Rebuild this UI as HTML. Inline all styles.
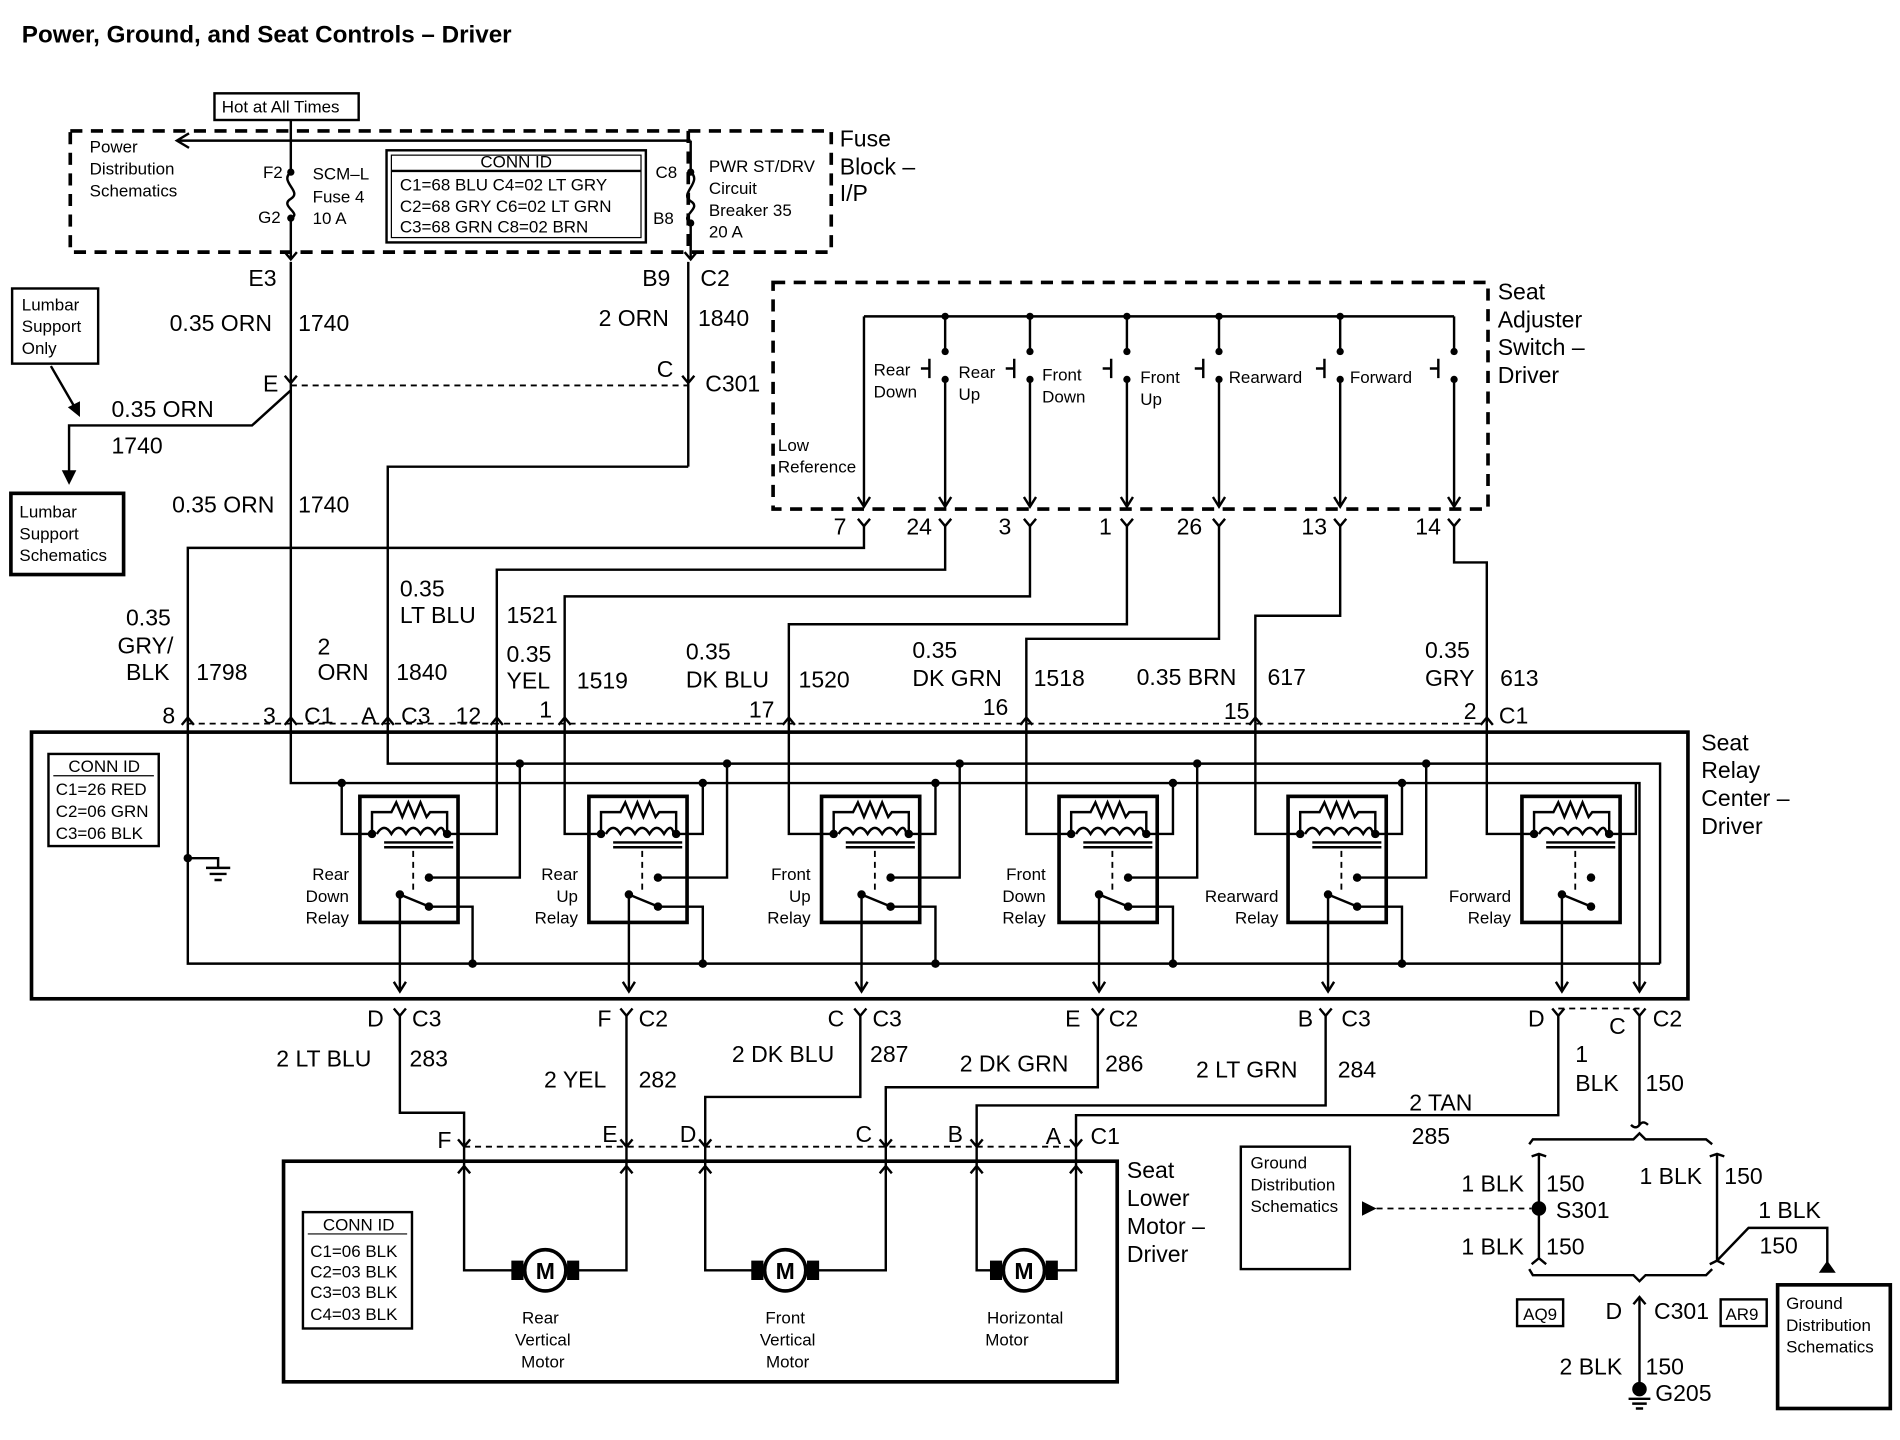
<!DOCTYPE html>
<html><head><meta charset="utf-8"><style>
html,body{margin:0;padding:0;background:#fff}
svg{display:block}
text{font-family:"Liberation Sans",Arial,sans-serif;fill:#000}
.b{font-size:19px}
.s{font-size:14px}
.l{fill:none;stroke:#000;stroke-width:2}
.d{fill:none;stroke:#000;stroke-width:3;stroke-dasharray:10,7}
.dt{fill:none;stroke:#000;stroke-width:1.5;stroke-dasharray:5,4}
</style></head><body>
<svg width="1900" height="1440" viewBox="0 0 1568 1188" preserveAspectRatio="none" xmlns="http://www.w3.org/2000/svg">
<defs>
<path id="ch" d="M-5,-6 L0,0 L5,-6" fill="none" stroke="#000" stroke-width="2"/>
<path id="cu" d="M-5,6 L0,0 L5,6" fill="none" stroke="#000" stroke-width="2"/>
<path id="ah" d="M-5,-8 L0,0 L5,-8" fill="none" stroke="#000" stroke-width="2"/>
<g id="relay">
<rect x="0" y="657" width="81" height="104" fill="none" stroke="#000" stroke-width="3"/>
<path d="M10,688 L10,670 L26,670 L30,662 L35,674 L40,662 L45,674 L50,662 L55,674 L58,670 L72,670 L72,688" class="l"/>
<path d="M14,688 q6,-10 12,0 q6,-10 12,0 q6,-10 12,0 q6,-10 12,0 q6,-10 8,0" class="l"/>
<line x1="20" y1="695" x2="77" y2="695" class="l"/><line x1="20" y1="699" x2="77" y2="699" class="l"/>
<line x1="44" y1="702" x2="44" y2="734" class="dt"/>
<circle cx="10" cy="688" r="3.5"/><circle cx="72" cy="688" r="3.5"/>
<circle cx="57" cy="724" r="3.5"/><circle cx="33" cy="738" r="3.5"/><circle cx="57" cy="748" r="3.5"/>
<path d="M33,738 L55,747" class="l"/>
<line x1="33" y1="738" x2="33" y2="818" class="l"/>
<use href="#ah" x="33" y="818"/>
</g>
<g id="motor">
<rect x="-28" y="-8" width="10" height="16" fill="#000"/><rect x="18" y="-8" width="10" height="16" fill="#000"/>
<circle cx="0" cy="0" r="17" fill="#fff" stroke="#000" stroke-width="3"/>
<text x="0" y="7" text-anchor="middle" class="b" font-weight="bold">M</text>
</g>
</defs>

<text x="18" y="35" font-size="20" font-weight="bold">Power, Ground, and Seat Controls – Driver</text>

<rect x="177" y="77" width="119" height="22" class="l"/>
<text x="183" y="93" class="s">Hot at All Times</text>
<line x1="240" y1="99" x2="240" y2="116" class="l"/>
<line x1="148" y1="116" x2="570" y2="116" class="l"/>
<path d="M156,110 L146,116 L156,122" class="l"/>
<rect x="58" y="108" width="628" height="100" class="d"/>
<line x1="568" y1="108" x2="568" y2="208" class="d"/>
<text x="74" y="126" class="s">Power</text><text x="74" y="144" class="s">Distribution</text><text x="74" y="162" class="s">Schematics</text>
<text x="217" y="147" class="s">F2</text><text x="213" y="184" class="s">G2</text>
<path d="M240,116 L240,142 C230,150 250,158 240,164 C230,170 250,176 240,180 L240,214" class="l"/>
<circle cx="240" cy="142" r="3"/><circle cx="240" cy="180" r="3"/>
<text x="258" y="148" class="s">SCM–L</text><text x="258" y="167" class="s">Fuse 4</text><text x="258" y="185" class="s">10 A</text>
<rect x="319" y="124" width="214" height="76" class="l"/><rect x="323" y="128" width="206" height="68" fill="none" stroke="#000" stroke-width="1"/>
<line x1="323" y1="141" x2="529" y2="141" class="l"/>
<text x="426" y="138" class="s" text-anchor="middle">CONN ID</text>
<text x="330" y="157" class="s">C1=68 BLU  C4=02 LT GRY</text>
<text x="330" y="175" class="s">C2=68 GRY  C6=02 LT GRN</text>
<text x="330" y="192" class="s">C3=68 GRN  C8=02 BRN</text>
<text x="541" y="147" class="s">C8</text><text x="539" y="185" class="s">B8</text>
<path d="M570,116 L570,142 C580,150 560,160 570,166 C580,172 560,178 570,184 L570,214" class="l"/>
<circle cx="570" cy="142" r="3"/><circle cx="570" cy="184" r="3"/>
<text x="585" y="142" class="s">PWR ST/DRV</text><text x="585" y="160" class="s">Circuit</text><text x="585" y="178" class="s">Breaker 35</text><text x="585" y="196" class="s">20 A</text>
<text x="693" y="121" class="b">Fuse</text><text x="693" y="144" class="b">Block –</text><text x="693" y="166" class="b">I/P</text>
<use href="#ch" x="240" y="214"/><use href="#ch" x="570" y="214"/>
<text x="205" y="236" class="b">E3</text><text x="530" y="236" class="b">B9</text><text x="578" y="236" class="b">C2</text>
<line x1="240" y1="216" x2="240" y2="597" class="l"/>
<line x1="568" y1="216" x2="568" y2="385" class="l"/>
<text x="140" y="273" class="b">0.35 ORN</text><text x="246" y="273" class="b">1740</text>
<text x="494" y="269" class="b">2 ORN</text><text x="576" y="269" class="b">1840</text>
<use href="#ch" x="240" y="316"/><use href="#ch" x="568" y="316"/>
<line x1="240" y1="318" x2="568" y2="318" class="dt"/>
<text x="217" y="323" class="b">E</text><text x="542" y="311" class="b">C</text><text x="582" y="323" class="b">C301</text>
<path d="M568,385 L320,385 L320,597" class="l"/>
<rect x="10" y="238" width="71" height="62" class="l"/>
<text x="18" y="256" class="s">Lumbar</text><text x="18" y="274" class="s">Support</text><text x="18" y="292" class="s">Only</text>
<line x1="42" y1="302" x2="64" y2="340" class="l"/><path d="M56,336 L66,344 L66,331 Z"/>
<path d="M240,322 L208,351 L57,351 L57,396" class="l"/><path d="M51,388 L57,400 L63,388 Z"/>
<text x="92" y="344" class="b">0.35 ORN</text><text x="92" y="374" class="b">1740</text>
<rect x="9" y="407" width="93" height="67" stroke="#000" stroke-width="3" fill="none"/>
<text x="16" y="427" class="s">Lumbar</text><text x="16" y="445" class="s">Support</text><text x="16" y="463" class="s">Schematics</text>
<text x="142" y="423" class="b">0.35 ORN</text><text x="246" y="423" class="b">1740</text>

<rect x="638" y="233" width="590" height="187" class="d"/>
<text x="1236" y="247" class="b">Seat</text><text x="1236" y="270" class="b">Adjuster</text><text x="1236" y="293" class="b">Switch –</text><text x="1236" y="316" class="b">Driver</text>
<line x1="713" y1="261" x2="1200" y2="261" class="l"/>
<line x1="713" y1="261" x2="713" y2="418" class="l"/><use href="#ah" x="713" y="418"/>
<text x="642" y="372" class="s">Low</text><text x="642" y="390" class="s">Reference</text>
<g class="l">
<path d="M780,261 L780,290 M780,313 L780,418 M767,296 L767,312 M760,304 L767,304"/>
<path d="M850,261 L850,290 M850,313 L850,418 M837,296 L837,312 M830,304 L837,304"/>
<path d="M930,261 L930,290 M930,313 L930,418 M917,296 L917,312 M910,304 L917,304"/>
<path d="M1006,261 L1006,290 M1006,313 L1006,418 M993,296 L993,312 M986,304 L993,304"/>
<path d="M1106,261 L1106,290 M1106,313 L1106,418 M1093,296 L1093,312 M1086,304 L1093,304"/>
<path d="M1200,261 L1200,290 M1200,313 L1200,418 M1187,296 L1187,312 M1180,304 L1187,304"/>
</g>
<g>
<circle cx="780" cy="261" r="3"/><circle cx="780" cy="290" r="3"/><circle cx="780" cy="313" r="3"/>
<circle cx="850" cy="261" r="3"/><circle cx="850" cy="290" r="3"/><circle cx="850" cy="313" r="3"/>
<circle cx="930" cy="261" r="3"/><circle cx="930" cy="290" r="3"/><circle cx="930" cy="313" r="3"/>
<circle cx="1006" cy="261" r="3"/><circle cx="1006" cy="290" r="3"/><circle cx="1006" cy="313" r="3"/>
<circle cx="1106" cy="261" r="3"/><circle cx="1106" cy="290" r="3"/><circle cx="1106" cy="313" r="3"/>
<circle cx="1200" cy="290" r="3"/><circle cx="1200" cy="313" r="3"/>
</g>
<use href="#ah" x="780" y="418"/><use href="#ah" x="850" y="418"/><use href="#ah" x="930" y="418"/><use href="#ah" x="1006" y="418"/><use href="#ah" x="1106" y="418"/><use href="#ah" x="1200" y="418"/>
<text x="721" y="310" class="s">Rear</text><text x="721" y="328" class="s">Down</text>
<text x="791" y="312" class="s">Rear</text><text x="791" y="330" class="s">Up</text>
<text x="860" y="314" class="s">Front</text><text x="860" y="332" class="s">Down</text>
<text x="941" y="316" class="s">Front</text><text x="941" y="334" class="s">Up</text>
<text x="1014" y="316" class="s">Rearward</text><text x="1114" y="316" class="s">Forward</text>
<use href="#ch" x="713" y="434"/><use href="#ch" x="780" y="434"/><use href="#ch" x="850" y="434"/><use href="#ch" x="930" y="434"/><use href="#ch" x="1006" y="434"/><use href="#ch" x="1106" y="434"/><use href="#ch" x="1200" y="434"/>
<text x="688" y="441" class="b">7</text><text x="748" y="441" class="b">24</text><text x="824" y="441" class="b">3</text><text x="907" y="441" class="b">1</text><text x="971" y="441" class="b">26</text><text x="1074" y="441" class="b">13</text><text x="1168" y="441" class="b">14</text>
<g class="l">
<path d="M713,434 L713,452 L155,452 L155,597"/>
<path d="M780,434 L780,470 L410,470 L410,597"/>
<path d="M850,434 L850,492 L466,492 L466,597"/>
<path d="M930,434 L930,515 L651,515 L651,597"/>
<path d="M1006,434 L1006,527 L847,527 L847,597"/>
<path d="M1106,434 L1106,508 L1036,508 L1036,597"/>
<path d="M1200,434 L1200,464 L1227,464 L1227,597"/>
</g>
<text x="104" y="516" class="b">0.35</text><text x="97" y="539" class="b">GRY/</text><text x="104" y="561" class="b">BLK</text><text x="162" y="561" class="b">1798</text>
<text x="262" y="540" class="b">2</text><text x="262" y="561" class="b">ORN</text><text x="327" y="561" class="b">1840</text>
<text x="330" y="492" class="b">0.35</text><text x="330" y="514" class="b">LT BLU</text><text x="418" y="514" class="b">1521</text>
<text x="418" y="546" class="b">0.35</text><text x="418" y="568" class="b">YEL</text><text x="476" y="568" class="b">1519</text>
<text x="566" y="544" class="b">0.35</text><text x="566" y="567" class="b">DK BLU</text><text x="659" y="567" class="b">1520</text>
<text x="753" y="543" class="b">0.35</text><text x="753" y="566" class="b">DK GRN</text><text x="853" y="566" class="b">1518</text>
<text x="938" y="565" class="b">0.35 BRN</text><text x="1046" y="565" class="b">617</text>
<text x="1176" y="543" class="b">0.35</text><text x="1176" y="566" class="b">GRY</text><text x="1238" y="566" class="b">613</text>
<line x1="155" y1="597" x2="1227" y2="597" class="dt"/>
<use href="#cu" x="155" y="592"/><use href="#cu" x="240" y="592"/><use href="#cu" x="320" y="592"/><use href="#cu" x="410" y="592"/><use href="#cu" x="466" y="592"/><use href="#cu" x="651" y="592"/><use href="#cu" x="847" y="592"/><use href="#cu" x="1036" y="592"/><use href="#cu" x="1227" y="592"/>
<text x="134" y="597" class="b">8</text><text x="217" y="597" class="b">3</text><text x="251" y="597" class="b">C1</text><text x="298" y="597" class="b">A</text><text x="331" y="597" class="b">C3</text><text x="376" y="597" class="b">12</text><text x="445" y="592" class="b">1</text><text x="618" y="592" class="b">17</text><text x="811" y="590" class="b">16</text><text x="1010" y="593" class="b">15</text><text x="1208" y="593" class="b">2</text><text x="1237" y="597" class="b">C1</text>

<rect x="26" y="604" width="1367" height="220" fill="none" stroke="#000" stroke-width="3"/>
<text x="1404" y="619" class="b">Seat</text><text x="1404" y="642" class="b">Relay</text><text x="1404" y="665" class="b">Center –</text><text x="1404" y="688" class="b">Driver</text>
<rect x="40" y="622" width="91" height="76" class="l"/><line x1="44" y1="640" x2="127" y2="640" stroke="#000"/>
<text x="86" y="637" class="s" text-anchor="middle">CONN ID</text>
<text x="46" y="656" class="s">C1=26 RED</text><text x="46" y="674" class="s">C2=06 GRN</text><text x="46" y="692" class="s">C3=06 BLK</text>
<g class="l">
<path d="M155,597 L155,795 L1370,795"/>
<path d="M155,708 L180,708 L180,716"/>
<path d="M170,716 L190,716 M173,721 L187,721 M177,726 L183,726"/>
<path d="M320,597 L320,630 L1370,630 L1370,795"/>
<path d="M240,597 L240,646 L1353,646 L1353,818"/>
<path d="M307,688 L282,688 L282,646 M369,688 L410,688 L410,597 M354,724 L429,724 L429,630 M354,748 L390,748 L390,795"/>
<path d="M496,688 L466,688 L466,597 M558,688 L580,688 L580,646 M543,724 L600,724 L600,630 M543,748 L580,748 L580,795"/>
<path d="M688,688 L651,688 L651,597 M750,688 L772,688 L772,646 M735,724 L792,724 L792,630 M735,748 L772,748 L772,795"/>
<path d="M884,688 L847,688 L847,597 M946,688 L968,688 L968,646 M931,724 L988,724 L988,630 M931,748 L968,748 L968,795"/>
<path d="M1073,688 L1036,688 L1036,597 M1135,688 L1157,688 L1157,646 M1120,724 L1177,724 L1177,630 M1120,748 L1157,748 L1157,795"/>
<path d="M1266,688 L1227,688 L1227,597 M1328,688 L1350,688 L1350,646"/>
</g>
<circle cx="155" cy="708" r="3.5"/><circle cx="282" cy="646" r="3.5"/><circle cx="429" cy="630" r="3.5"/><circle cx="390" cy="795" r="3.5"/>
<circle cx="580" cy="646" r="3.5"/><circle cx="600" cy="630" r="3.5"/><circle cx="580" cy="795" r="3.5"/>
<circle cx="772" cy="646" r="3.5"/><circle cx="792" cy="630" r="3.5"/><circle cx="772" cy="795" r="3.5"/>
<circle cx="968" cy="646" r="3.5"/><circle cx="988" cy="630" r="3.5"/><circle cx="968" cy="795" r="3.5"/>
<circle cx="1157" cy="646" r="3.5"/><circle cx="1177" cy="630" r="3.5"/><circle cx="1157" cy="795" r="3.5"/>
<use href="#relay" x="297"/><use href="#relay" x="486"/><use href="#relay" x="678"/><use href="#relay" x="874"/><use href="#relay" x="1063"/><use href="#relay" x="1256"/>
<g class="s" text-anchor="end">
<text x="288" y="726">Rear</text><text x="288" y="744">Down</text><text x="288" y="762">Relay</text>
<text x="477" y="726">Rear</text><text x="477" y="744">Up</text><text x="477" y="762">Relay</text>
<text x="669" y="726">Front</text><text x="669" y="744">Up</text><text x="669" y="762">Relay</text>
<text x="863" y="726">Front</text><text x="863" y="744">Down</text><text x="863" y="762">Relay</text>
<text x="1055" y="744">Rearward</text><text x="1055" y="762">Relay</text>
<text x="1247" y="744">Forward</text><text x="1247" y="762">Relay</text>
</g>
<use href="#ah" x="1353" y="818"/>

<use href="#ch" x="330" y="838"/><use href="#ch" x="517" y="838"/><use href="#ch" x="710" y="838"/><use href="#ch" x="906" y="838"/><use href="#ch" x="1094" y="838"/><use href="#ch" x="1286" y="838"/><use href="#ch" x="1353" y="838"/>
<text x="303" y="847" class="b">D</text><text x="340" y="847" class="b">C3</text>
<text x="493" y="847" class="b">F</text><text x="527" y="847" class="b">C2</text>
<text x="683" y="847" class="b">C</text><text x="720" y="847" class="b">C3</text>
<text x="879" y="847" class="b">E</text><text x="915" y="847" class="b">C2</text>
<text x="1071" y="847" class="b">B</text><text x="1107" y="847" class="b">C3</text>
<text x="1261" y="847" class="b">D</text><text x="1328" y="853" class="b">C</text><text x="1364" y="847" class="b">C2</text>
<line x1="1286" y1="832" x2="1353" y2="832" class="dt"/>
<g class="l">
<path d="M330,838 L330,918 L383,918 L383,962"/>
<path d="M517,838 L517,962"/>
<path d="M710,838 L710,905 L582,905 L582,962"/>
<path d="M906,838 L906,897 L731,897 L731,962"/>
<path d="M1094,838 L1094,912 L806,912 L806,962"/>
<path d="M1286,838 L1286,920 L888,920 L888,962"/>
</g>
<text x="228" y="880" class="b">2 LT BLU</text><text x="338" y="880" class="b">283</text>
<text x="449" y="897" class="b">2 YEL</text><text x="527" y="897" class="b">282</text>
<text x="604" y="876" class="b">2 DK BLU</text><text x="718" y="876" class="b">287</text>
<text x="792" y="884" class="b">2 DK GRN</text><text x="912" y="884" class="b">286</text>
<text x="987" y="889" class="b">2 LT GRN</text><text x="1104" y="889" class="b">284</text>
<text x="1163" y="916" class="b">2 TAN</text><text x="1165" y="944" class="b">285</text>
<text x="361" y="947" class="b">F</text><text x="497" y="942" class="b">E</text><text x="561" y="942" class="b">D</text><text x="706" y="942" class="b">C</text><text x="782" y="942" class="b">B</text><text x="863" y="944" class="b">A</text><text x="900" y="944" class="b">C1</text>
<line x1="383" y1="946" x2="888" y2="946" class="dt"/>
<use href="#ch" x="383" y="946"/><use href="#ch" x="517" y="946"/><use href="#ch" x="582" y="946"/><use href="#ch" x="731" y="946"/><use href="#ch" x="806" y="946"/><use href="#ch" x="888" y="946"/>

<rect x="234" y="958" width="688" height="182" fill="none" stroke="#000" stroke-width="3"/>
<text x="930" y="972" class="b">Seat</text><text x="930" y="995" class="b">Lower</text><text x="930" y="1018" class="b">Motor –</text><text x="930" y="1041" class="b">Driver</text>
<rect x="250" y="1000" width="90" height="96" class="l"/><line x1="254" y1="1018" x2="336" y2="1018" stroke="#000"/>
<text x="296" y="1015" class="s" text-anchor="middle">CONN ID</text>
<text x="256" y="1037" class="s">C1=06 BLK</text><text x="256" y="1054" class="s">C2=03 BLK</text><text x="256" y="1071" class="s">C3=03 BLK</text><text x="256" y="1089" class="s">C4=03 BLK</text>
<g class="l">
<path d="M383,962 L383,1048 L517,1048 L517,962"/>
<path d="M582,962 L582,1048 L731,1048 L731,962"/>
<path d="M806,962 L806,1048 L888,1048 L888,962"/>
</g>
<use href="#cu" x="383" y="962"/><use href="#cu" x="517" y="962"/><use href="#cu" x="582" y="962"/><use href="#cu" x="731" y="962"/><use href="#cu" x="806" y="962"/><use href="#cu" x="888" y="962"/>
<use href="#motor" x="450" y="1048"/><use href="#motor" x="648" y="1048"/><use href="#motor" x="845" y="1048"/>
<g class="s" text-anchor="middle">
<text x="446" y="1092">Rear</text><text x="448" y="1110">Vertical</text><text x="448" y="1128">Motor</text>
<text x="648" y="1092">Front</text><text x="650" y="1110">Vertical</text><text x="650" y="1128">Motor</text>
<text x="846" y="1092">Horizontal</text><text x="831" y="1110">Motor</text>
</g>

<line x1="1353" y1="838" x2="1353" y2="928" class="l"/>
<path d="M1346,928 q4,4 7,0 q3,-4 7,0" class="l"/>
<text x="1300" y="876" class="b">1</text><text x="1300" y="900" class="b">BLK</text><text x="1358" y="900" class="b">150</text>
<path d="M1262,944 L1265,940 L1348,940 L1353,935 L1358,940 L1408,940 L1413,944" class="l"/>
<path d="M1262,1047 L1265,1052 L1348,1052 L1353,1057 L1358,1052 L1408,1052 L1413,1047" class="l"/>
<path d="M1264,954 L1270,952 L1276,954 M1270,952 L1270,1038 M1264,1043 L1270,1038 L1276,1043" class="l"/>
<path d="M1411,954 L1417,952 L1423,954 M1417,952 L1417,1040 M1411,1043 L1417,1040 L1423,1043" class="l"/>
<circle cx="1270" cy="997" r="6"/>
<line x1="1136" y1="997" x2="1264" y2="997" class="dt" stroke-width="2"/>
<path d="M1124,991 L1136,997 L1124,1003 Z"/>
<rect x="1024" y="946" width="90" height="101" class="l"/>
<text x="1032" y="964" class="s">Ground</text><text x="1032" y="982" class="s">Distribution</text><text x="1032" y="1000" class="s">Schematics</text>
<text x="1206" y="983" class="b">1 BLK</text><text x="1276" y="983" class="b">150</text><text x="1284" y="1005" class="b">S301</text>
<text x="1206" y="1035" class="b">1 BLK</text><text x="1276" y="1035" class="b">150</text>
<text x="1353" y="977" class="b">1 BLK</text><text x="1423" y="977" class="b">150</text>
<path d="M1417,1040 L1443,1013 L1508,1013 L1508,1042" class="l"/><path d="M1501,1050 L1508,1040 L1515,1050 Z"/>
<text x="1451" y="1005" class="b">1 BLK</text><text x="1452" y="1034" class="b">150</text>
<rect x="1252" y="1072" width="38" height="22" class="l"/><text x="1257" y="1089" class="s">AQ9</text>
<rect x="1420" y="1072" width="38" height="22" class="l"/><text x="1424" y="1089" class="s">AR9</text>
<text x="1325" y="1088" class="b">D</text><text x="1365" y="1088" class="b">C301</text>
<use href="#cu" x="1353" y="1070"/>
<line x1="1353" y1="1070" x2="1353" y2="1145" class="l"/>
<circle cx="1353" cy="1146" r="6"/>
<path d="M1344,1154 L1362,1154 M1347,1158 L1359,1158 M1350,1162 L1356,1162" class="l"/>
<text x="1287" y="1134" class="b">2 BLK</text><text x="1358" y="1134" class="b">150</text><text x="1366" y="1156" class="b">G205</text>
<rect x="1467" y="1060" width="93" height="102" stroke="#000" stroke-width="3" fill="none"/>
<text x="1474" y="1080" class="s">Ground</text><text x="1474" y="1098" class="s">Distribution</text><text x="1474" y="1116" class="s">Schematics</text>
</svg>
</body></html>
